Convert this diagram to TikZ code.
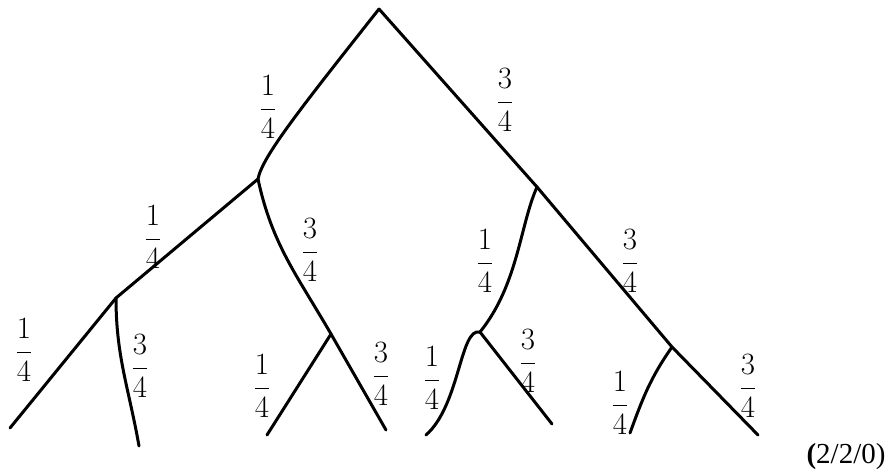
\RequirePackage{fix-cm}
\documentclass[tikz,border=0pt]{standalone}
\usepackage{amsmath}
\usepackage{fontspec}
\setmainfont{Liberation Serif}
\begin{document}
\begin{tikzpicture}[
  x=1pt, y=1pt,
  branch/.style={line width=3pt, line cap=round, line join=round},
  prob/.style={font=\fontsize{31}{36}\selectfont, inner sep=0pt}
]
\useasboundingbox (0,0) rectangle (891,475);
% tree points
\coordinate (root) at (379,466);
\coordinate (l) at (258,296);
\coordinate (r) at (537,288);
\coordinate (ll) at (116,177);
\coordinate (lr) at (331,141);
\coordinate (rl) at (480,143);
\coordinate (rr) at (672,128);
\coordinate (lll) at (10,47);
\coordinate (llr) at (139,29);
\coordinate (lrl) at (267,40);
\coordinate (lrr) at (386,45);
\coordinate (rll) at (426,40);
\coordinate (rlr) at (552,51);
\coordinate (rrl) at (630,42);
\coordinate (rrr) at (758,40);
% branches
\draw[branch] (root) .. controls (300,366) and (262,318) .. (l);
\draw[branch] (root) -- (r);
\draw[branch] (l) -- (ll);
\draw[branch] (l) to[out=-78,in=120] (lr);
\draw[branch] (r) .. controls (520,250) and (518,190) .. (rl);
\draw[branch] (r) -- (rr);
\draw[branch] (ll) -- (lll);
\draw[branch] (ll) to[out=-90,in=100] (llr);
\draw[branch] (lr) -- (lrl);
\draw[branch] (lr) -- (lrr);
\draw[branch] (rl) .. controls (460,148) and (460,70) .. (rll);
\draw[branch] (rl) -- (rlr);
\draw[branch] (rr) to[out=235,in=70] (rrl);
\draw[branch] (rr) -- (rrr);
% probabilities
\node[prob] (pl) at (268,368) {$\dfrac{1}{4}$};
\node[prob] (pr) at (505,375) {$\dfrac{3}{4}$};
\node[prob] (pll) at (153,238) {$\dfrac{1}{4}$};
\node[prob] (plr) at (310,225) {$\dfrac{3}{4}$};
\node[prob] (prl) at (485,214) {$\dfrac{1}{4}$};
\node[prob] (prr) at (630,214) {$\dfrac{3}{4}$};
\node[prob] (plll) at (24,125) {$\dfrac{1}{4}$};
\node[prob] (pllr) at (140,109) {$\dfrac{3}{4}$};
\node[prob] (plrl) at (262,89) {$\dfrac{1}{4}$};
\node[prob] (plrr) at (381,101) {$\dfrac{3}{4}$};
\node[prob] (prll) at (432,97) {$\dfrac{1}{4}$};
\node[prob] (prlr) at (528,114) {$\dfrac{3}{4}$};
\node[prob] (prrl) at (620,72) {$\dfrac{1}{4}$};
\node[prob] (prrr) at (748,89) {$\dfrac{3}{4}$};
\node[font=\fontsize{29}{33}\selectfont, inner sep=0pt] (marks) at (846,18) {\textbf{(}2/2/0)};
\end{tikzpicture}
\end{document}
